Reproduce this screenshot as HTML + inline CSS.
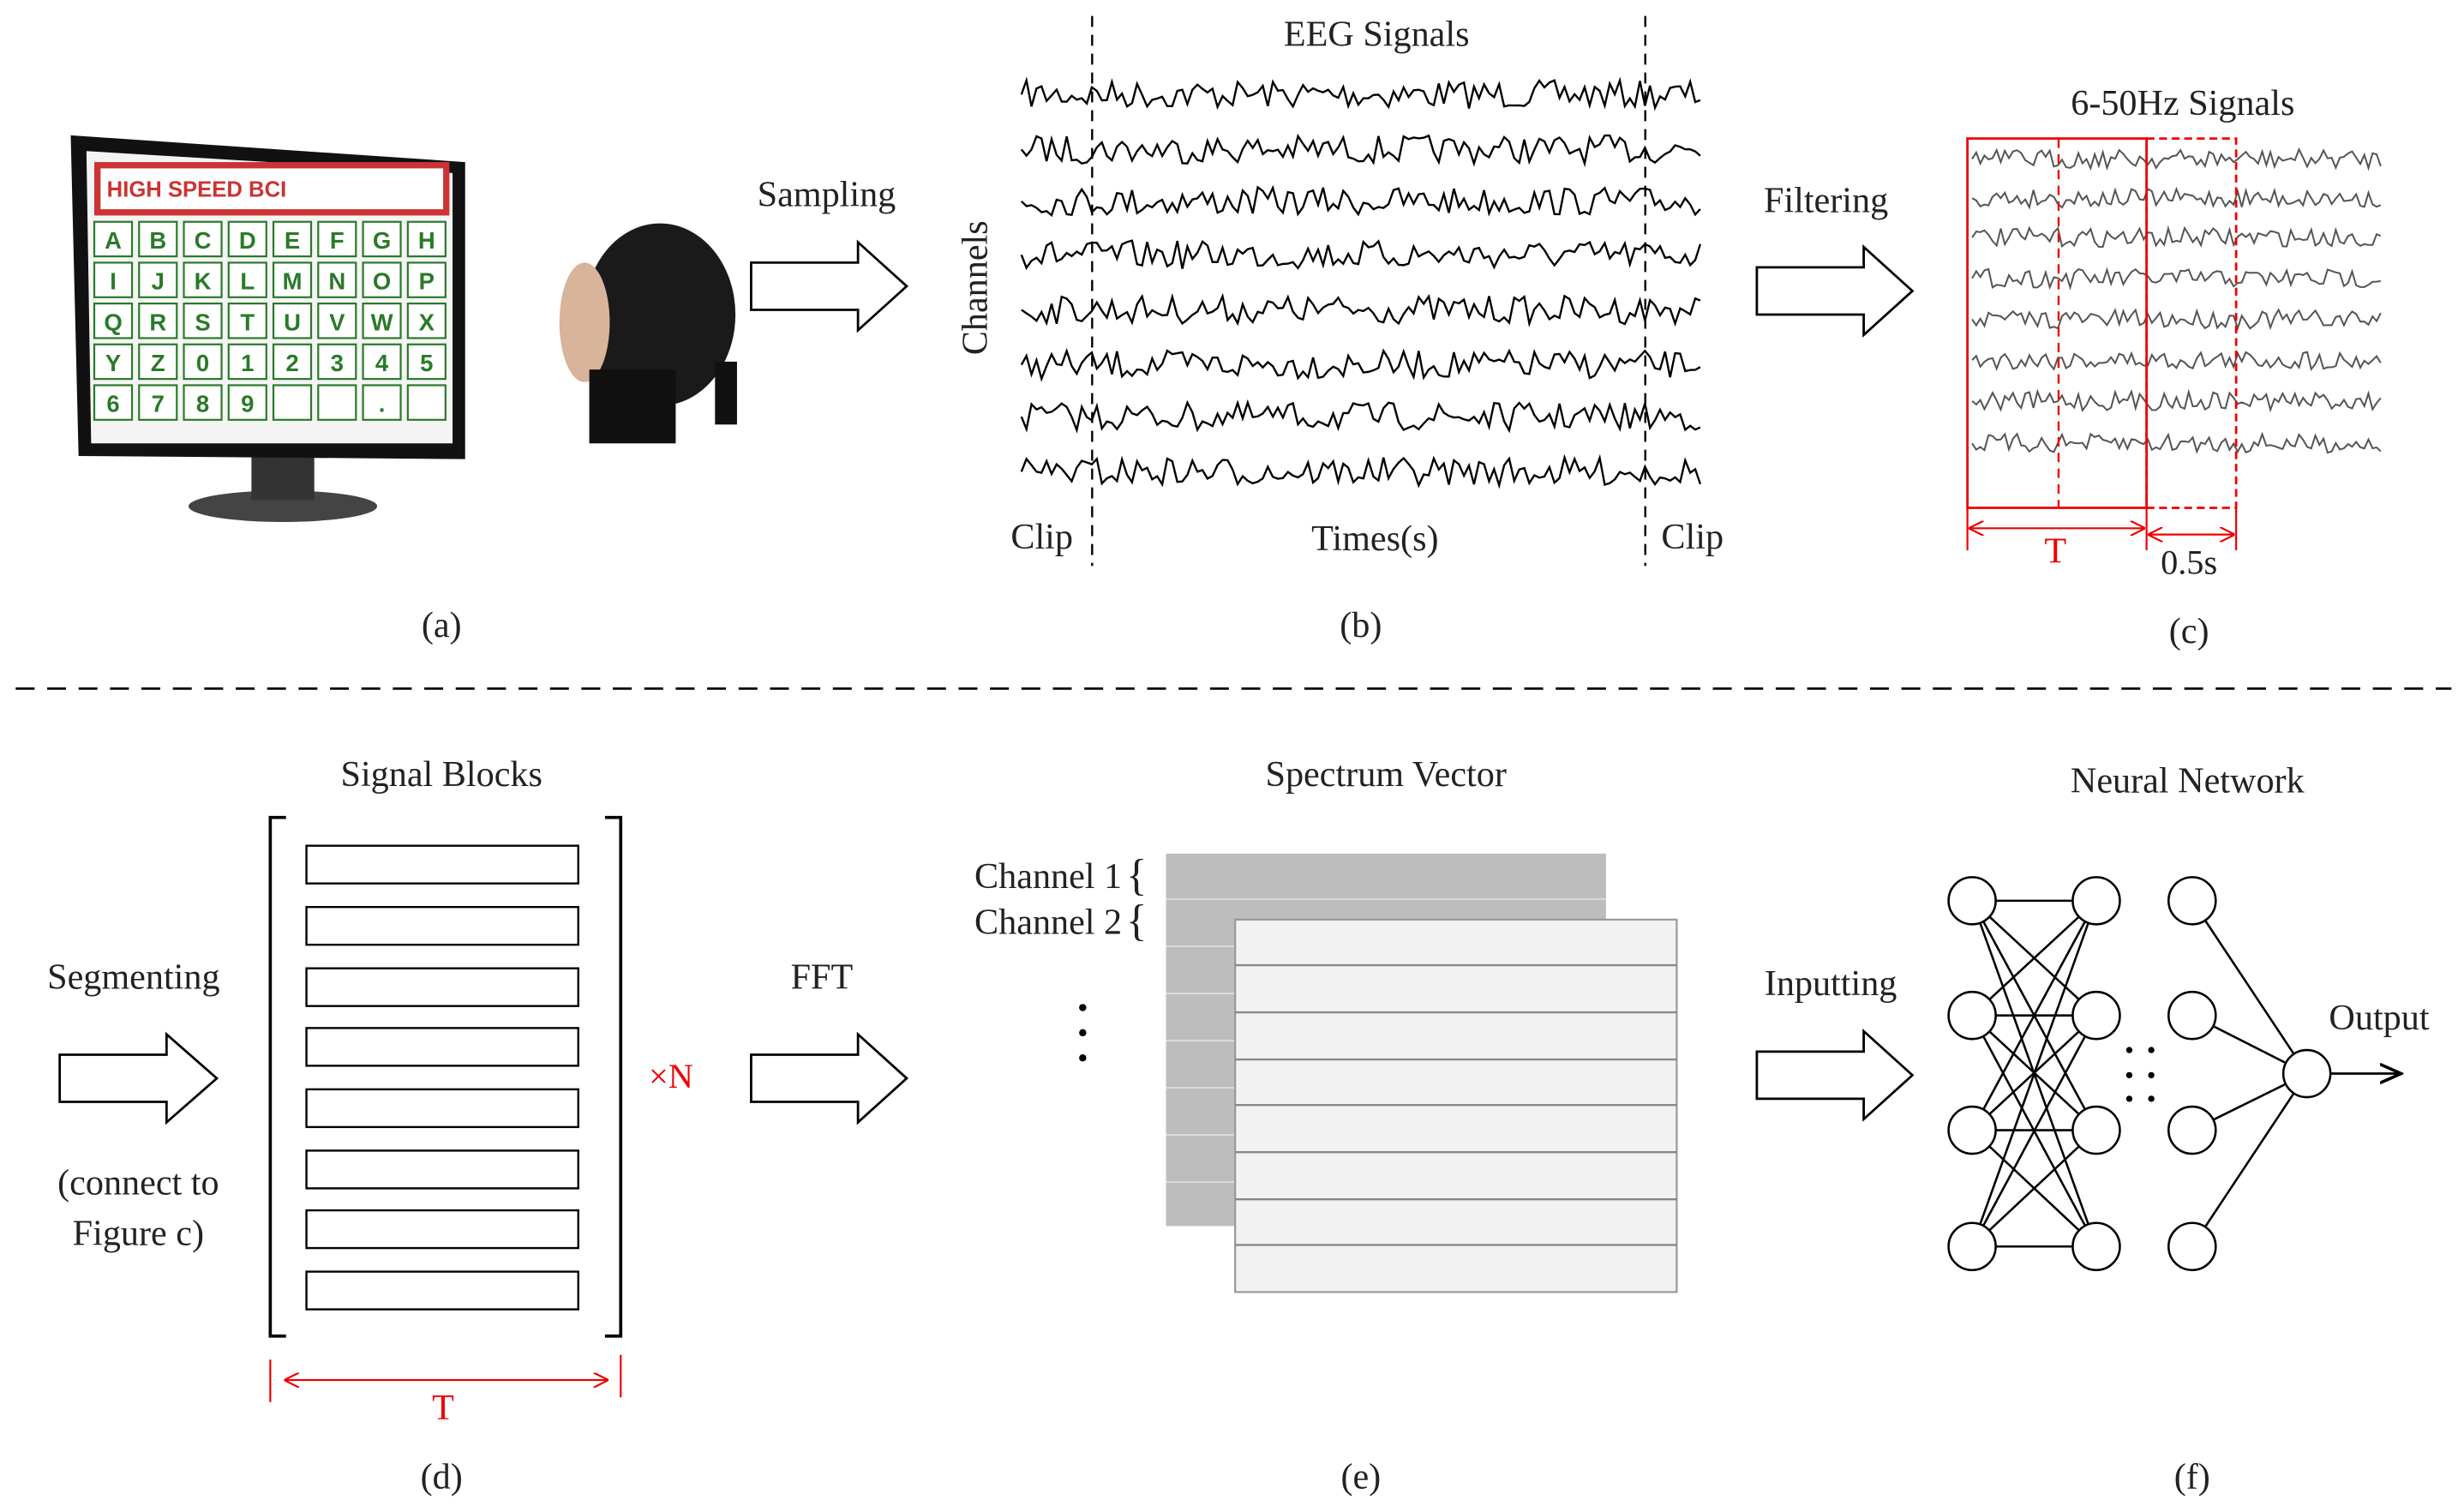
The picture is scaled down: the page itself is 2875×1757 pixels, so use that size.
<!DOCTYPE html>
<html><head><meta charset="utf-8">
<style>
html,body{margin:0;padding:0;background:#fff;}
svg{display:block;}
text{font-family:"Liberation Serif",serif;fill:#222;}
</style></head>
<body>
<svg id="s" width="2875" height="1757" viewBox="0 0 1568 958" xmlns="http://www.w3.org/2000/svg">
<defs>
<marker id="ar" markerWidth="8" markerHeight="8" refX="7" refY="4" orient="auto"><path d="M0,0 L8,4 L0,8" fill="none" stroke="#e00" stroke-width="1"/></marker>
<marker id="al" markerWidth="8" markerHeight="8" refX="1" refY="4" orient="auto"><path d="M8,0 L0,4 L8,8" fill="none" stroke="#e00" stroke-width="1"/></marker>
<marker id="ak" markerWidth="10" markerHeight="10" refX="9" refY="5" orient="auto"><path d="M0,1 L9,5 L0,9" fill="none" stroke="#000" stroke-width="1.3"/></marker>
</defs>

<!-- (a) monitor -->
<g>
<ellipse cx="180" cy="322" rx="60" ry="10" fill="#444"/>
<rect x="160" y="290" width="40" height="28" fill="#333"/>
<polygon points="45,86 296,103 296,292 50,290" fill="#111"/>
<polygon points="55,96 288,110 288,282 58,282" fill="#f4f4f4"/>
<rect x="60" y="103" width="226" height="34" fill="#c33"/>
<rect x="64" y="107" width="218" height="26" fill="#fff"/>
<text x="68" y="125" font-family="Liberation Sans" font-size="14" font-weight="bold" fill="#c33" style="fill:#c33;font-family:'Liberation Sans'">HIGH SPEED BCI</text>
<g id="grid"></g>
</g>
<!-- head -->
<g>
<ellipse cx="420" cy="200" rx="48" ry="58" fill="#1a1a1a"/>
<ellipse cx="372" cy="205" rx="16" ry="38" fill="#d8b49a"/>
<rect x="375" y="235" width="55" height="47" fill="#111"/>
<rect x="455" y="230" width="14" height="40" fill="#111"/>
</g>

<!-- arrows -->
<g fill="#fff" stroke="#000" stroke-width="1.5">
<polygon points="478,167 546,167 546,154 577,182 546,210 546,197 478,197"/>
<polygon points="1118,170 1186,170 1186,157 1217,185 1186,213 1186,200 1118,200"/>
<polygon points="38,671 106,671 106,658 138,686 106,714 106,701 38,701"/>
<polygon points="478,671 546,671 546,658 577,686 546,714 546,701 478,701"/>
<polygon points="1118,669 1186,669 1186,656 1217,684 1186,712 1186,699 1118,699"/>
</g>
<g font-size="23">
<text x="526" y="131" text-anchor="middle">Sampling</text>
<text x="1162" y="135" text-anchor="middle">Filtering</text>
<text x="85" y="629" text-anchor="middle">Segmenting</text>
<text x="88" y="760" text-anchor="middle">(connect to</text>
<text x="88" y="792" text-anchor="middle">Figure c)</text>
<text x="523" y="629" text-anchor="middle">FFT</text>
<text x="1165" y="633" text-anchor="middle">Inputting</text>
</g>

<!-- (b) -->
<text x="876" y="29" font-size="23" text-anchor="middle">EEG Signals</text>
<line x1="695" y1="10" x2="695" y2="360" stroke="#000" stroke-dasharray="7,5" stroke-width="1.3"/>
<line x1="1047" y1="10" x2="1047" y2="360" stroke="#000" stroke-dasharray="7,5" stroke-width="1.3"/>
<g id="wb" fill="none" stroke="#000" stroke-width="1.3"></g>
<text transform="translate(628,183) rotate(-90)" font-size="23" text-anchor="middle">Channels</text>
<g font-size="23">
<text x="663" y="349" text-anchor="middle">Clip</text>
<text x="875" y="350" text-anchor="middle">Times(s)</text>
<text x="1077" y="349" text-anchor="middle">Clip</text>
<text x="281" y="405" text-anchor="middle">(a)</text>
<text x="866" y="405" text-anchor="middle">(b)</text>
<text x="1393" y="409" text-anchor="middle">(c)</text>
</g>

<!-- (c) -->
<text x="1389" y="73" font-size="23" text-anchor="middle">6-50Hz Signals</text>
<g id="wc" fill="none" stroke="#555" stroke-width="1.1"></g>
<rect x="1252" y="88" width="114" height="235" fill="none" stroke="#e00" stroke-width="1.5"/>
<rect x="1366" y="88" width="57" height="235" fill="none" stroke="#e00" stroke-width="1.5" stroke-dasharray="5,3"/>
<line x1="1310" y1="88" x2="1310" y2="323" stroke="#e00" stroke-width="1.3" stroke-dasharray="6,4"/>
<line x1="1252" y1="323" x2="1252" y2="350" stroke="#e00" stroke-width="1.2"/>
<line x1="1366" y1="323" x2="1366" y2="350" stroke="#e00" stroke-width="1.2"/>
<line x1="1423" y1="323" x2="1423" y2="350" stroke="#e00" stroke-width="1.2"/>
<line x1="1254" y1="336" x2="1364" y2="336" stroke="#e00" stroke-width="1.2" marker-end="url(#ar)" marker-start="url(#al)"/>
<line x1="1368" y1="340" x2="1421" y2="340" stroke="#e00" stroke-width="1.2" marker-end="url(#ar)" marker-start="url(#al)"/>
<text x="1308" y="358" font-size="23" text-anchor="middle" style="fill:#e00">T</text>
<text x="1393" y="365" font-size="22" text-anchor="middle">0.5s</text>

<line x1="10" y1="438" x2="1560" y2="438" stroke="#000" stroke-width="1.5" stroke-dasharray="12,8"/>

<!-- (d) -->
<text x="281" y="500" font-size="23" text-anchor="middle">Signal Blocks</text>
<path d="M182,520 H172 V850 H182" fill="none" stroke="#000" stroke-width="2"/>
<path d="M385,520 H395 V850 H385" fill="none" stroke="#000" stroke-width="2"/>
<g fill="#fff" stroke="#000" stroke-width="1.3">
<rect x="195" y="538" width="173" height="24"/>
<rect x="195" y="577" width="173" height="24"/>
<rect x="195" y="616" width="173" height="24"/>
<rect x="195" y="654" width="173" height="24"/>
<rect x="195" y="693" width="173" height="24"/>
<rect x="195" y="732" width="173" height="24"/>
<rect x="195" y="770" width="173" height="24"/>
<rect x="195" y="809" width="173" height="24"/>
</g>
<text x="427" y="692" font-size="22" text-anchor="middle" style="fill:#e00">×N</text>
<line x1="172" y1="865" x2="172" y2="892" stroke="#e00" stroke-width="1.2"/>
<line x1="395" y1="862" x2="395" y2="889" stroke="#e00" stroke-width="1.2"/>
<line x1="182" y1="878" x2="386" y2="878" stroke="#e00" stroke-width="1.2" marker-end="url(#ar)" marker-start="url(#al)"/>
<text x="282" y="903" font-size="23" text-anchor="middle" style="fill:#e00">T</text>
<g font-size="23">
<text x="281" y="947" text-anchor="middle">(d)</text>
<text x="866" y="947" text-anchor="middle">(e)</text>
<text x="1395" y="947" text-anchor="middle">(f)</text>
</g>

<!-- (e) -->
<text x="882" y="500" font-size="23" text-anchor="middle">Spectrum Vector</text>
<rect x="742" y="543" width="280" height="237" fill="#bdbdbd"/>
<g stroke="#ddd" stroke-width="1"><line x1="742" y1="572" x2="1022" y2="572"/><line x1="742" y1="602" x2="786" y2="602"/><line x1="742" y1="632" x2="786" y2="632"/><line x1="742" y1="662" x2="786" y2="662"/><line x1="742" y1="692" x2="786" y2="692"/><line x1="742" y1="722" x2="786" y2="722"/><line x1="742" y1="752" x2="786" y2="752"/></g>
<rect x="786" y="585" width="281" height="237" fill="#f2f2f2" stroke="#999" stroke-width="1.2"/>
<g stroke="#888" stroke-width="1.3"><line x1="786" y1="614" x2="1067" y2="614"/><line x1="786" y1="644" x2="1067" y2="644"/><line x1="786" y1="674" x2="1067" y2="674"/><line x1="786" y1="703" x2="1067" y2="703"/><line x1="786" y1="733" x2="1067" y2="733"/><line x1="786" y1="763" x2="1067" y2="763"/><line x1="786" y1="792" x2="1067" y2="792"/></g>
<text x="714" y="565" font-size="23" text-anchor="end">Channel 1</text>
<text x="714" y="594" font-size="23" text-anchor="end">Channel 2</text>
<text x="730" y="566" font-size="28" text-anchor="end">{</text>
<text x="730" y="595" font-size="28" text-anchor="end">{</text>
<g fill="#000"><circle cx="689" cy="641" r="2.3"/><circle cx="689" cy="657" r="2.3"/><circle cx="689" cy="673" r="2.3"/></g>

<!-- (f) -->
<text x="1392" y="504" font-size="23" text-anchor="middle">Neural Network</text>
<g id="nn" stroke="#000" stroke-width="1.4" fill="none"></g>
<g fill="#000"><circle cx="1355" cy="668" r="2"/><circle cx="1355" cy="684" r="2"/><circle cx="1355" cy="699" r="2"/><circle cx="1369" cy="668" r="2"/><circle cx="1369" cy="684" r="2"/><circle cx="1369" cy="699" r="2"/></g>
<line x1="1483" y1="683" x2="1528" y2="683" stroke="#000" stroke-width="1.5" marker-end="url(#ak)"/>
<text x="1514" y="655" font-size="23" text-anchor="middle">Output</text>
</svg>
<script>
var NS="http://www.w3.org/2000/svg";
var seed=7;function rnd(){seed=(seed*16807)%2147483647;return seed/2147483647;}
function wave(g,x0,x1,y,amp,step){var d="M"+x0+","+y;for(var x=x0+step;x<=x1;x+=step){d+=" L"+x.toFixed(1)+","+(y+(rnd()-0.5)*2*amp).toFixed(1);}var p=document.createElementNS(NS,"path");p.setAttribute("d",d);g.appendChild(p);}
var wb=document.getElementById("wb");[60,95,128,162,197,232,265,300].forEach(function(y){wave(wb,650,1085,y,9,3.2);});
var wc=document.getElementById("wc");[101,126,151,177,203,229,255,282].forEach(function(y){wave(wc,1255,1515,y,6,2.6);});
var g=document.getElementById("grid");
var rows=[["A","B","C","D","E","F","G","H"],["I","J","K","L","M","N","O","P"],["Q","R","S","T","U","V","W","X"],["Y","Z","0","1","2","3","4","5"],["6","7","8","9","","",".",""]];
rows.forEach(function(r,i){r.forEach(function(c,j){var x=60+j*28.5,y=141+i*26;var rc=document.createElementNS(NS,"rect");rc.setAttribute("x",x);rc.setAttribute("y",y);rc.setAttribute("width",24);rc.setAttribute("height",22);rc.setAttribute("fill","#fff");rc.setAttribute("stroke","#2a7a2a");rc.setAttribute("stroke-width","1.2");g.appendChild(rc);var t=document.createElementNS(NS,"text");t.setAttribute("x",x+12);t.setAttribute("y",y+17);t.setAttribute("text-anchor","middle");t.setAttribute("font-size","15");t.setAttribute("style","fill:#2a7a2a;font-family:'Liberation Sans';font-weight:bold");t.textContent=c;g.appendChild(t);});});
var nn=document.getElementById("nn");var ys=[573,646,719,793];
function ln(a,b,c,d){var l=document.createElementNS(NS,"line");l.setAttribute("x1",a);l.setAttribute("y1",b);l.setAttribute("x2",c);l.setAttribute("y2",d);nn.appendChild(l);}
ys.forEach(function(a){ys.forEach(function(b){ln(1255,a,1334,b);});ln(1395,a,1468,683);});
function ci(x,y){var c=document.createElementNS(NS,"circle");c.setAttribute("cx",x);c.setAttribute("cy",y);c.setAttribute("r",15);c.setAttribute("fill","#fff");nn.appendChild(c);}
ys.forEach(function(y){ci(1255,y);ci(1334,y);ci(1395,y);});ci(1468,683);
</script>
</body></html>
